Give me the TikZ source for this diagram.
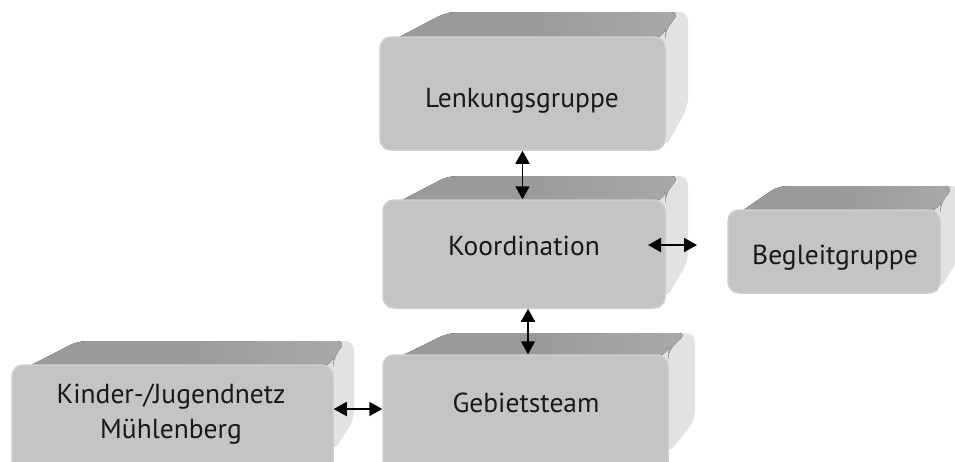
\documentclass[tikz,border=0pt]{standalone}
\usepackage{fontspec}
\setmainfont{PT Sans}
\usetikzlibrary{arrows.meta}
\definecolor{topgray}{HTML}{9A9A9A}
\definecolor{frontgray}{HTML}{C4C4C4}
\definecolor{rimgray}{HTML}{CDCDCD}
\definecolor{sidelight}{HTML}{E2E2E2}
\tikzset{
  backface/.style={fill=sidelight, rounded corners=9pt},
  topface/.style={left color=topgray, right color=topgray!85!white, middle color=topgray, rounded corners=9pt},
  frontface/.style={draw=rimgray, line width=1.5pt, fill=frontgray, rounded corners=11pt, inner sep=0pt},
  lbl/.style={font=\fontsize{27.5}{35}\selectfont, align=center, text=black!90, anchor=base, inner sep=0pt},
  biarrow/.style={line width=1.8pt, {Triangle[length=13pt,width=14pt]}-{Triangle[length=13pt,width=14pt]}}
}
\begin{document}
\begin{tikzpicture}[x=1pt,y=-1pt]
\useasboundingbox (0,0) rectangle (955,461);
\clip (0,0) rectangle (955,461);
% ---------- Lenkungsgruppe: front (380,37)-(665,150)
\fill[backface] (384,45) -- (447,12) -- (688,12) -- (688,107) -- (665,148) -- (665,37) -- cycle;
\fill[topface] (384,45) -- (447,12) -- (680,12) -- (665,30) -- (665,37) -- cycle;
\node[frontface, minimum width=285pt, minimum height=113pt] (lenk) at (522.5,93.5) {};
\node[lbl] (tlenk) at (522,107) {Lenkungsgruppe};
% ---------- Koordination: front (383,200)-(665,308)
\fill[backface] (387,208) -- (448,176) -- (688,176) -- (688,262) -- (665,300) -- (665,200) -- cycle;
\fill[topface] (387,208) -- (448,176) -- (680,176) -- (665,194) -- (665,200) -- cycle;
\node[frontface, minimum width=282pt, minimum height=108pt] (koord) at (524,254) {};
\node[lbl] (tkoord) at (524,255) {Koordination};
% ---------- Begleitgruppe: front (728,210)-(940,293)
\fill[backface] (732,218) -- (778,186) -- (962,186) -- (962,252) -- (940,290) -- (940,210) -- cycle;
\fill[topface] (732,218) -- (778,186) -- (954,186) -- (940,204) -- (940,210) -- cycle;
\node[frontface, minimum width=212pt, minimum height=83pt] (begl) at (834,251.5) {};
\node[lbl] (tbegl) at (835,264) {Begleitgruppe};
% ---------- Kinder-/Jugendnetz: front (12,365)-(333,480)
\fill[backface] (16,373) -- (78,341) -- (354,341) -- (354,420) -- (333,452) -- (333,365) -- cycle;
\fill[topface] (16,373) -- (78,341) -- (346,341) -- (333,358) -- (333,365) -- cycle;
\node[frontface, minimum width=321pt, minimum height=115pt] (kind) at (172.5,422.5) {};
\node[lbl] (tkind) at (171,438) {Kinder-/Jugendnetz\\Mühlenberg};
% ---------- Gebietsteam: front (383,355)-(668,480)
\fill[backface] (387,363) -- (448,333) -- (695,333) -- (695,420) -- (668,454) -- (668,355) -- cycle;
\fill[topface] (387,363) -- (448,333) -- (687,333) -- (668,350) -- (668,355) -- cycle;
\node[frontface, minimum width=285pt, minimum height=125pt] (geb) at (525.5,417.5) {};
\node[lbl] (tgeb) at (526,412) {Gebietsteam};
% ---------- connectors
\coordinate (kgx) at (528,0);
\coordinate (kby) at (0,409);
\coordinate (kb1) at (648,245);
\coordinate (kb2) at (697,245);
\draw[biarrow] (lenk.south) -- (lenk.south |- koord.north);
\draw[biarrow] (koord.south -| kgx) -- (geb.north -| kgx);
\draw[biarrow] (kb1) -- (kb2);
\draw[biarrow] (kind.east |- kby) -- (geb.west |- kby);
\end{tikzpicture}
\end{document}
